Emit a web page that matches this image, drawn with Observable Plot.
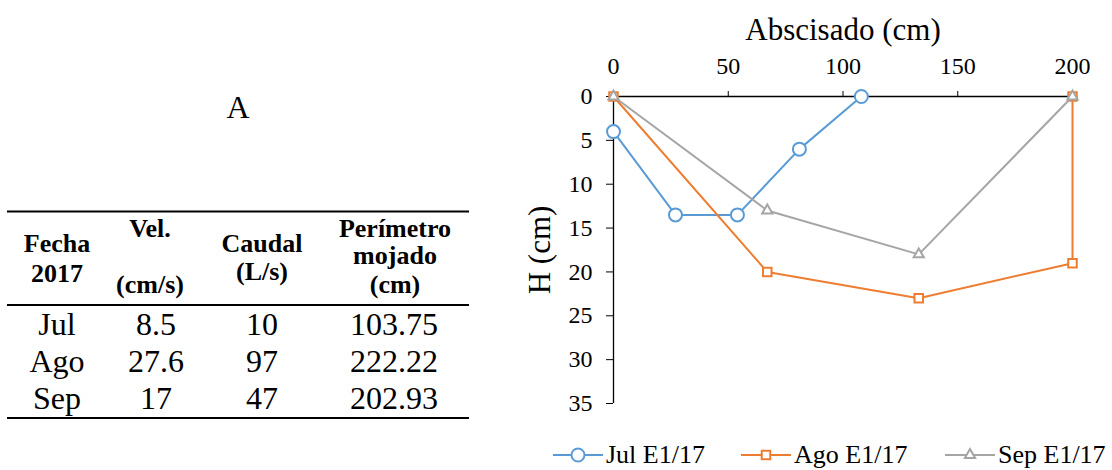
<!DOCTYPE html>
<html><head><meta charset="utf-8">
<script src="https://cdn.jsdelivr.net/npm/d3@7"></script>
<script src="https://cdn.jsdelivr.net/npm/@observablehq/plot@0.6"></script>
<style>
body{margin:0;background:#fff;}
#wrap{position:relative;width:1112px;height:470px;font-family:"Liberation Serif","Times New Roman",serif;color:#000;overflow:hidden;background:#fff}
#chart{position:absolute;left:512px;top:0}
#table{position:absolute;left:0;top:0}
.leg{position:absolute;top:442px;height:26px;font-size:26px;line-height:26px;white-space:nowrap;display:flex;align-items:center}
.leg svg{margin-right:3px}
g[aria-label="x-axis label"] text, g[aria-label="y-axis label"] text{font-size:31px}
</style></head><body>
<div id="wrap"><svg id="table" width="500" height="470"></svg><div id="chart"></div><div id="legend"></div></div>
<script>
// ---- table data ----
const tableTitle = "A";
const headers = [["Fecha","2017"],["Vel.","(cm/s)"],["Caudal","(L/s)"],["Perímetro","mojado","(cm)"]];
const months = ["Jul","Ago","Sep"];
const vel = ["8.5","27.6","17"];
const caudal = ["10","97","47"];
const perimetro = ["103.75","222.22","202.93"];

// ---- chart data ----
const series = ["Jul E1/17","Ago E1/17","Sep E1/17"];
const julX = [0, 27, 54, 81, 108];
const julH = [4, 13.5, 13.5, 6, 0];
const agoX = [0, 67, 133, 200, 200];
const agoH = [0, 20, 23, 19, 0];
const sepX = [0, 67, 133, 200];
const sepH = [0, 13, 18, 0];
const xTicks = [0, 50, 100, 150, 200];
const yTicks = [0, 5, 10, 15, 20, 25, 30, 35];
const xLabel = "Abscisado (cm)";
const yLabel = "H (cm)";

const colors = ["#5B9BD5","#ED7D31","#A5A5A5"];
const symbols = ["circle","square","triangle"];
const radii = [6.5, 4.8, 3.8];

const xs = [julX, agoX, sepX], hs = [julH, agoH, sepH];
const rows = [];
series.forEach((s, i) => xs[i].forEach((x, j) => rows.push({series: s, x, h: hs[i][j]})));

const marks = [
  Plot.ruleY([0], {stroke: "#000", strokeWidth: 1.3}),
  Plot.ruleX([0], {stroke: "#000", strokeWidth: 1.3}),
  Plot.axisX({anchor: "top", ticks: xTicks, tickSize: 6, tickPadding: 17, label: xLabel, labelAnchor: "center", labelOffset: 79, labelArrow: "none", fontSize: 24}),
  Plot.axisY({anchor: "left", ticks: yTicks, tickSize: 7, tickPadding: 14, label: yLabel, labelAnchor: "center", labelOffset: 86, labelArrow: "none", fontSize: 24})
];
series.forEach((s, i) => {
  const d = rows.filter(r => r.series === s);
  marks.push(Plot.line(d, {x: "x", y: "h", stroke: "series", strokeWidth: 2}));
  marks.push(Plot.dot(d, {x: "x", y: "h", stroke: "series", fill: "white", strokeWidth: 2, symbol: symbols[i], r: radii[i]}));
});

const plot = Plot.plot({
  width: 600, height: 430,
  marginLeft: 101, marginRight: 40, marginTop: 96, marginBottom: 27,
  style: {fontFamily: "Liberation Serif", fontSize: "24px", background: "transparent", color: "#000"},
  x: {domain: [0, 200]},
  y: {domain: [0, 35], reverse: true},
  color: {domain: series, range: colors},
  marks
});
document.getElementById("chart").appendChild(plot);

// ---- legend ----
const legendLeft = [553, 741, 945];
const leg = document.getElementById("legend");
series.forEach((s, i) => {
  const div = document.createElement("div");
  div.className = "leg";
  div.style.left = legendLeft[i] + "px";
  const sym = d3.symbol(symbols[i] === "circle" ? d3.symbolCircle : symbols[i] === "square" ? d3.symbolSquare : d3.symbolTriangle, Math.PI * radii[i] * radii[i])();
  div.innerHTML = `<svg width="50" height="20" viewBox="0 0 50 20"><line x1="0" x2="50" y1="10" y2="10" stroke="${colors[i]}" stroke-width="2"/><path d="${sym}" transform="translate(25,10)" fill="white" stroke="${colors[i]}" stroke-width="2"/></svg><span>${s}</span>`;
  leg.appendChild(div);
});

// ---- table ----
const t = d3.select("#table").attr("font-family", "Liberation Serif");
t.append("text").attr("x", 238).attr("y", 118).attr("text-anchor", "middle").attr("font-size", 32).text(tableTitle);
[211.5, 305, 418].forEach(y => t.append("line").attr("x1", 7).attr("x2", 469).attr("y1", y).attr("y2", y).attr("stroke", "#000").attr("stroke-width", 2));
const colX = [57, 156, 262, 394];
const headX = [57, 150, 262, 395];
const headY = [[252, 282], [237, 293], [252, 280], [237, 264, 293]];
headers.forEach((lines, c) => lines.forEach((txt, k) =>
  t.append("text").attr("x", headX[c]).attr("y", headY[c][k]).attr("text-anchor", "middle").attr("font-size", 26).attr("font-weight", "bold").text(txt)));
const rowY = [335, 372, 409];
months.forEach((m, r) => {
  [m, vel[r], caudal[r], perimetro[r]].forEach((txt, c) =>
    t.append("text").attr("x", colX[c]).attr("y", rowY[r]).attr("text-anchor", "middle").attr("font-size", 32).text(txt));
});
</script></body></html>
